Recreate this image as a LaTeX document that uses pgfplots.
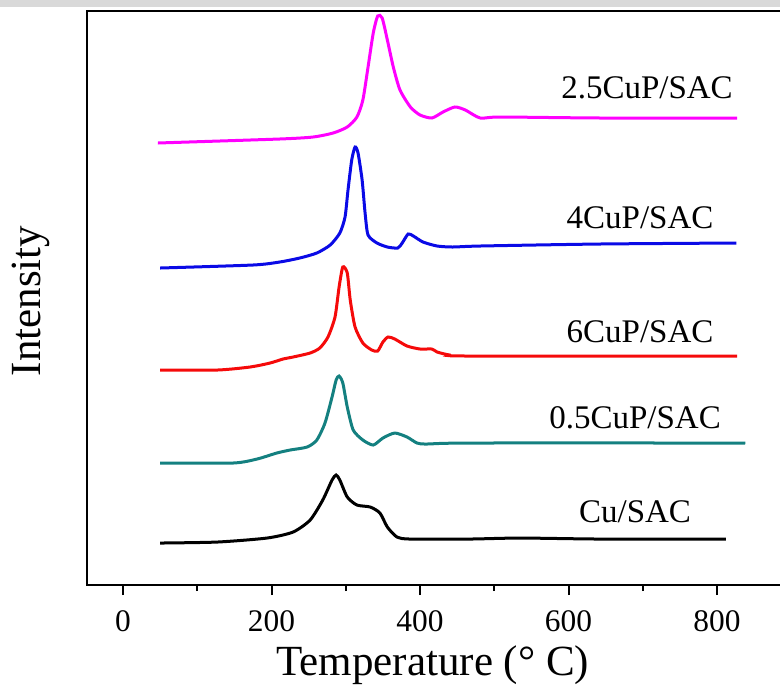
\documentclass[border=0pt]{standalone}
\usepackage{pgfplots}
\pgfplotsset{compat=1.18}
\usepackage{fontspec}
\setmainfont{Liberation Serif}
\definecolor{cmag}{RGB}{255,0,255}
\definecolor{cblue}{RGB}{10,10,230}
\definecolor{cred}{RGB}{245,10,10}
\definecolor{cteal}{RGB}{20,128,128}
\begin{document}
\begin{tikzpicture}
\begin{axis}[
  scale only axis, width=352.1pt, height=287pt,
  xmin=-48.5, xmax=900, ymin=-2, ymax=572,
  clip=false,
  xtick={0,200,400,600,800}, xticklabels={0,200,400,600,800},
  minor x tick num=1,
  xtick pos=bottom, tick align=outside,
  ytick=\empty,
  major tick length=5pt, minor tick length=3pt,
  every tick/.style={black, line width=1pt},
  axis line style={line width=1pt},
  xticklabel style={font=\rmfamily\fontsize{15.7}{18}\selectfont, yshift=-4pt},
  xlabel={Temperature (°\ C)}, ylabel={Intensity},
  label style={font=\fontsize{21.5}{24}\selectfont},
  xlabel style={at={(axis description cs:0.491,-0.1568)}, anchor=base},
  ylabel style={at={(axis description cs:-0.0795,0.495)}, anchor=center, rotate=0},
  every axis plot/.append style={line width=1.5pt, smooth, tension=0.4},
]
% gray band on top
\fill[black!15] (axis cs:-165.7,583) rectangle (axis cs:884.8,576);
\coordinate (bbA) at (axis cs:-165.7,-101);
\coordinate (bbB) at (axis cs:884.8,583);

% 2.5CuP/SAC
\addplot[cmag] coordinates {
(47,440) (211,444) (256,446) (283,450) (302,456) (315,466) (323,483) (330,516)
(337,550) (343,567) (349,565) (356,543) (364,516) (373,493) (387,476) (400,468)
(416,465) (431,471) (447,476) (461,473) (481,465) (508,466) (642,465) (827,465)};
% 4CuP/SAC
\addplot[cblue] coordinates {
(50,315) (175,318) (211,321) (238,325) (261,330) (279,338) (292,350) (299,366)
(303,393) (308,423) (312.5,436) (316.5,430) (322,403) (326,370) (330,348) (342,340)
(356,336) (370,335) (376,340) (384,349) (391,347) (404,341) (423,337) (444,336)
(481,337) (642,339) (826,340)};
% 6CuP/SAC
\addplot[cred] coordinates {
(50,213) (127,213) (171,216) (198,220) (215.5,224) (229,226) (252,230) (265,235)
(276,246) (285.5,266) (291,296) (296,316) (302,310) (306,283) (312.5,256) (323,240)
(335,233) (343,232) (350,241) (357,246) (366,244) (382.5,237) (400,234) (416,234)
(423,231) (440,228) (467,227) (827,227)};
% 0.5CuP/SAC
\addplot[cteal] coordinates {
(50,120) (148,120) (180.5,124) (207,130) (225,133) (248,136) (261,143) (272,160)
(281.5,186) (287,203) (291,207) (296,200) (302,176) (310,153) (323,143) (337,138)
(350,145) (366,150) (382.5,146) (396,140) (409,139) (467,140) (838,140)};
% Cu/SAC
\addplot[black] coordinates {
(50,40) (127,41) (194,45) (229,51) (252,63) (269,83) (281.5,103) (287,108)
(292,103) (302,86) (315,78) (333,76) (346,70) (356,56) (369,46) (386.5,44)
(467,44) (535,45) (642,44) (812,44)};

\node[anchor=base, font=\fontsize{16.5}{19}\selectfont] at (axis cs:705.7,485) {2.5CuP/SAC};
\node[anchor=base, font=\fontsize{16.5}{19}\selectfont] at (axis cs:696.3,355) {4CuP/SAC};
\node[anchor=base, font=\fontsize{16.5}{19}\selectfont] at (axis cs:696.3,241) {6CuP/SAC};
\node[anchor=base, font=\fontsize{16.5}{19}\selectfont] at (axis cs:689.6,155) {0.5CuP/SAC};
\node[anchor=base, font=\fontsize{16.5}{19}\selectfont] at (axis cs:689.6,61) {Cu/SAC};
\end{axis}
\pgfresetboundingbox
\useasboundingbox (bbA) rectangle (bbB);
\end{tikzpicture}
\end{document}
